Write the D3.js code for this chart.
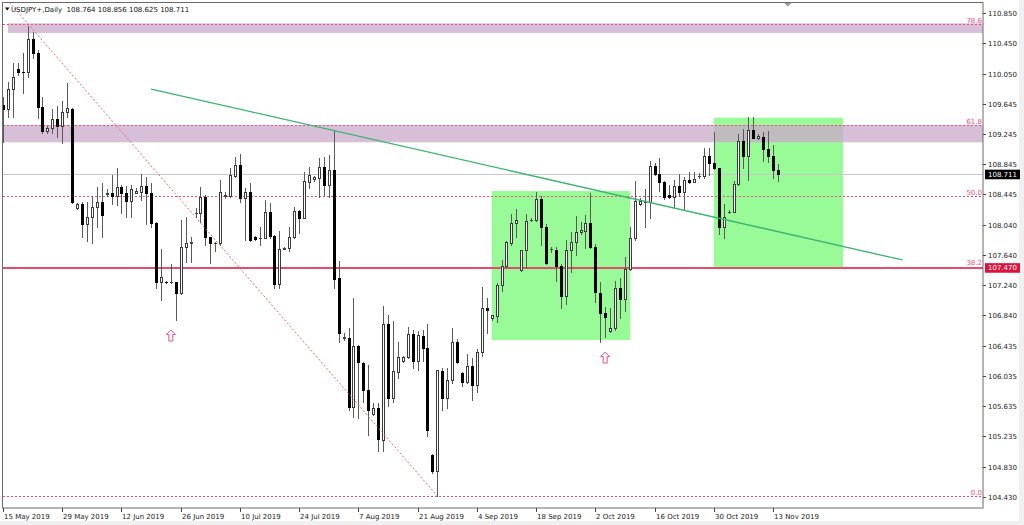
<!DOCTYPE html>
<html><head><meta charset="utf-8">
<script src="https://cdn.jsdelivr.net/npm/d3@7"></script>
<style>
html,body{margin:0;padding:0;background:#f0f0f0;}
svg{display:block;}
text{font-family:"DejaVu Sans",sans-serif;font-size:7px;}
</style></head>
<body>
<svg id="c" width="1024" height="525"></svg>
<script>
const symbol = "USDJPY+,Daily";
const dateTicks = ["15 May 2019","29 May 2019","12 Jun 2019","26 Jun 2019","10 Jul 2019","24 Jul 2019","7 Aug 2019","21 Aug 2019","4 Sep 2019","18 Sep 2019","2 Oct 2019","16 Oct 2019","30 Oct 2019","13 Nov 2019"];
const dateTickBars = [0,12,24,36,48,60,72,84,96,108,120,132,144,156];
const priceTicks = [110.850,110.450,110.050,109.645,109.245,108.845,108.445,108.040,107.640,107.240,106.840,106.435,106.035,105.635,105.235,104.830,104.430];

const open = [109.633,109.576,109.841,110.115,110.077,110.075,110.509,110.319,109.602,109.288,109.324,109.451,109.354,109.540,109.576,108.270,108.319,108.053,108.142,108.275,108.349,108.458,108.461,108.425,108.548,108.469,108.363,108.469,108.482,108.558,108.461,108.071,107.288,107.290,107.285,107.288,107.134,107.744,107.802,108.193,108.195,108.416,107.885,107.795,107.797,108.426,108.429,108.694,108.837,108.395,108.474,107.885,107.869,107.871,108.209,107.898,107.257,107.728,107.731,107.885,108.226,108.137,108.615,108.647,108.668,108.814,108.571,108.770,107.333,106.541,106.544,105.628,106.434,106.204,105.850,105.528,105.607,105.186,106.722,105.748,106.093,106.239,106.292,106.589,106.235,106.571,106.404,104.987,104.775,106.102,105.740,105.983,106.491,106.072,105.952,106.173,105.916,106.350,106.934,106.802,106.836,107.244,107.500,107.797,108.063,107.443,107.708,108.100,108.103,108.385,108.018,107.719,107.708,107.500,107.102,107.708,107.818,107.943,107.967,108.063,107.752,107.134,106.868,106.633,106.669,107.208,107.058,107.456,107.864,108.315,108.341,108.341,108.827,108.713,108.607,108.438,108.416,108.562,108.474,108.637,108.615,108.692,108.694,108.960,108.859,108.793,108.018,108.214,108.217,108.580,109.155,108.960,109.301,109.191,109.212,109.049,108.960,108.764];
const high = [109.739,109.942,110.186,110.186,110.319,110.681,110.606,110.363,109.735,109.354,109.576,109.620,109.690,109.921,109.589,108.336,108.349,108.349,108.425,108.548,108.602,108.514,108.704,108.793,108.571,108.558,108.571,108.527,108.717,108.681,108.602,108.084,107.718,107.301,107.522,107.288,108.106,108.142,107.885,108.262,108.548,108.438,107.885,107.818,108.637,108.482,108.801,108.947,108.979,108.527,108.594,107.898,108.018,108.372,108.328,107.907,107.960,107.752,108.018,108.283,108.239,108.748,108.814,108.694,108.925,108.947,108.969,109.301,107.562,106.603,106.669,107.075,106.447,106.218,106.182,105.674,105.674,106.969,106.846,106.766,106.483,106.305,106.690,106.646,106.633,106.646,106.722,104.997,106.116,106.146,106.146,106.669,106.527,106.085,106.324,106.271,106.394,107.221,107.067,106.846,107.266,107.576,107.828,108.182,108.252,107.708,108.182,108.129,108.474,108.429,108.049,107.752,107.752,107.518,107.841,107.951,108.164,108.076,108.173,108.461,107.784,107.288,106.956,106.934,107.297,107.341,107.619,108.018,108.624,108.395,108.518,108.890,108.859,108.933,108.624,108.571,108.637,108.713,108.681,108.748,108.748,108.726,109.066,109.066,109.278,108.801,108.315,108.239,108.624,109.244,109.314,109.478,109.478,109.244,109.278,109.288,109.102,108.856];
const low = [109.142,109.478,109.478,110.031,109.796,110.008,110.257,109.456,109.257,109.265,109.257,109.204,109.132,109.470,108.336,108.256,107.877,107.832,107.805,108.018,107.885,108.425,108.319,108.306,108.203,108.150,108.150,108.461,108.372,108.053,108.018,107.200,107.045,107.266,107.266,106.779,107.124,107.553,107.553,108.150,108.084,107.775,107.532,107.695,107.775,108.402,108.416,108.681,108.341,107.841,107.828,107.841,107.775,107.864,107.871,107.200,107.208,107.722,107.695,107.864,107.930,108.129,108.535,108.624,108.416,108.438,108.416,107.200,106.491,106.514,105.585,105.496,105.482,105.695,105.253,105.518,105.040,105.040,105.642,105.687,106.013,106.226,106.271,106.146,106.116,106.235,105.243,104.744,104.447,105.585,105.615,105.939,106.204,105.907,105.939,105.717,105.820,106.305,106.603,106.779,106.749,107.164,107.487,107.775,107.885,107.430,107.473,108.093,108.093,107.775,107.518,107.686,107.297,106.942,106.988,107.412,107.642,107.917,107.731,107.739,107.022,106.483,106.558,106.624,106.646,106.802,106.899,107.443,107.841,108.306,108.018,108.137,108.704,108.491,108.385,108.395,108.283,108.429,108.239,108.594,108.607,108.668,108.668,108.704,108.783,107.917,107.871,108.195,108.209,108.571,108.801,108.637,109.191,109.182,108.890,108.872,108.668,108.625];
const close = [109.580,109.841,110.001,110.075,110.072,110.509,110.319,109.602,109.288,109.324,109.451,109.354,109.540,109.589,108.349,108.319,108.053,108.142,108.275,108.349,108.173,108.465,108.425,108.548,108.469,108.363,108.518,108.495,108.558,108.461,108.063,107.288,107.346,107.285,107.290,107.134,107.744,107.805,107.808,108.198,108.416,107.885,107.797,107.800,108.482,108.432,108.704,108.837,108.402,108.474,107.841,107.854,107.874,108.209,107.898,107.257,107.722,107.734,107.885,108.226,108.137,108.624,108.704,108.681,108.814,108.571,108.770,107.319,106.603,106.547,105.628,106.434,106.218,105.850,105.585,105.615,105.200,106.722,105.748,106.102,106.292,106.292,106.589,106.235,106.580,106.404,105.319,104.775,106.112,105.740,105.983,106.483,106.218,105.952,106.173,105.916,106.350,106.934,106.916,106.842,107.244,107.500,107.810,108.063,108.106,107.708,108.093,108.105,108.385,108.018,107.532,107.724,107.500,107.102,107.708,107.818,107.943,107.974,108.063,107.752,107.147,106.868,106.823,106.669,107.208,107.058,107.456,107.864,108.359,108.359,108.359,108.827,108.713,108.607,108.416,108.416,108.562,108.474,108.637,108.607,108.651,108.697,108.960,108.859,108.793,108.018,108.150,108.219,108.580,109.155,108.960,109.301,109.199,109.225,109.049,108.960,108.770,108.711];

// annotations
const fibLabels = ["0.0","38.2","50.0","61.8","78.6"];
const fibPrices = [104.443,107.485,108.424,109.365,110.703];
const fibAnchorBars = [-17.3, 88];
const fibAnchorPrices = [112.40, 104.443];
const zoneStartBars = [1, -2];
const zoneTop = [110.717, 109.367];
const zoneBottom = [110.589, 109.138];
const boxStartBars = [99, 144];
const boxEndBars = [127.1, 170.2];
const boxTop = [108.491, 109.464];
const boxBottom = [106.513, 107.473];
const trendBars = [30, 182.2];
const trendPrices = [109.845, 107.576];
const levelPrice = 107.470;
const arrowBars = [34, 122];
const arrowPrices = [106.646, 106.354];

const svg = d3.select("#c");
const L = 3, R = 983, T = 2.5, B = 508;
const x = d3.scaleLinear().domain([0,156]).range([3,773]);
const y = d3.scaleLinear().domain([104.43,110.85]).range([497,13.3]);

svg.append("rect").attr("x",0).attr("y",0).attr("width",1019).attr("height",521).attr("fill","#fff");
svg.append("defs").append("clipPath").attr("id","clip").append("rect")
  .attr("x",L).attr("y",T).attr("width",R-L).attr("height",B-T);
const g = svg.append("g").attr("clip-path","url(#clip)");

// purple zones
zoneTop.forEach((t,k)=>{
  g.append("rect").attr("x",x(zoneStartBars[k])).attr("y",y(t))
   .attr("width",R - x(zoneStartBars[k])).attr("height",y(zoneBottom[k])-y(t))
   .attr("fill","#d8bfd8");
});
// green boxes
boxTop.forEach((t,k)=>{
  g.append("rect").attr("x",x(boxStartBars[k])).attr("y",y(t))
   .attr("width",x(boxEndBars[k])-x(boxStartBars[k])).attr("height",y(boxBottom[k])-y(t))
   .attr("fill","#98fb98");
});
// overlap of box 2 with zone 2
{
  const ox0 = Math.max(x(boxStartBars[1]), x(zoneStartBars[1]));
  const ox1 = x(boxEndBars[1]);
  const oy0 = Math.max(y(boxTop[1]), y(zoneTop[1]));
  const oy1 = Math.min(y(boxBottom[1]), y(zoneBottom[1]));
  g.append("rect").attr("x",ox0).attr("y",oy0).attr("width",ox1-ox0).attr("height",oy1-oy0).attr("fill","#bfbbbf");
}
// bid line
const last = close.length-1;
g.append("line").attr("x1",L).attr("x2",R).attr("y1",Math.round(y(close[last]))+0.5).attr("y2",Math.round(y(close[last]))+0.5)
 .attr("stroke","#c8c8c8").attr("stroke-width",1);
// fib dotted lines
fibPrices.forEach((p,k)=>{
  if (fibLabels[k]==="38.2") return;
  const yy = Math.round(y(p))+0.5;
  g.append("line").attr("x1",L).attr("x2",R).attr("y1",yy).attr("y2",yy)
   .attr("stroke","#e8507a").attr("stroke-width",1).attr("stroke-dasharray","2,2");
});
// red solid level
g.append("line").attr("x1",L).attr("x2",R).attr("y1",y(levelPrice)).attr("y2",y(levelPrice))
 .attr("stroke","#e24d6e").attr("stroke-width",2);

// candles
const cg = g.append("g");
open.forEach((o,i)=>{
  const cx = Math.round(x(i));
  const yH = Math.round(y(high[i])), yL = Math.round(y(low[i]));
  const yO = Math.round(y(o)), yC = Math.round(y(close[i]));
  const bull = close[i] >= o;
  cg.append("line").attr("x1",cx+0.5).attr("x2",cx+0.5).attr("y1",yH).attr("y2",yL+1)
    .attr("stroke","#5a5a5a").attr("stroke-width",1);
  const top = Math.min(yO,yC), bot = Math.max(yO,yC);
  if (bot - top < 2) {
    cg.append("rect").attr("x",cx-1).attr("y",top).attr("width",3).attr("height",Math.max(1,bot-top+1))
      .attr("fill", bull ? "#444" : "#000");
  } else if (bull) {
    cg.append("rect").attr("x",cx-0.5).attr("y",top+0.5).attr("width",2).attr("height",bot-top)
      .attr("fill","#fff").attr("stroke","#3a3a3a").attr("stroke-width",1);
  } else {
    cg.append("rect").attr("x",cx-1).attr("y",top).attr("width",3).attr("height",bot-top+1).attr("fill","#000");
  }
});

// trend line
g.append("line").attr("x1",x(trendBars[0])).attr("y1",y(trendPrices[0]))
 .attr("x2",x(trendBars[1])).attr("y2",y(trendPrices[1]))
 .attr("stroke","#3cb371").attr("stroke-width",1.3);
// fib diagonal
g.append("line").attr("x1",x(fibAnchorBars[0])).attr("y1",y(fibAnchorPrices[0]))
 .attr("x2",x(fibAnchorBars[1])).attr("y2",y(fibAnchorPrices[1]))
 .attr("stroke","#f0607a").attr("stroke-width",1).attr("stroke-dasharray","2,2");
// arrows
arrowBars.forEach((b,k)=>{
  const cx = x(b), ty = y(arrowPrices[k]);
  const pts = [[cx,ty],[cx+4.5,ty+4.5],[cx+2,ty+4.5],[cx+2,ty+11],[cx-2,ty+11],[cx-2,ty+4.5],[cx-4.5,ty+4.5]];
  g.append("polygon").attr("points",pts.map(p=>p.join(",")).join(" "))
   .attr("fill","#fff").attr("stroke","#f0507a").attr("stroke-width",1);
});
// fib labels
fibPrices.forEach((p,k)=>{
  g.append("text").attr("x",R-1).attr("y",y(p)-1.5).attr("text-anchor","end")
   .attr("fill","#f0507a").text(fibLabels[k]);
});

// frame
svg.append("rect").attr("x",2.5).attr("y",T).attr("width",R-2.5).attr("height",B-T)
 .attr("fill","none").attr("stroke","#6b6b6b").attr("stroke-width",1);

// y axis
priceTicks.forEach(p=>{
  const yy = Math.round(y(p))+0.5;
  svg.append("line").attr("x1",R).attr("x2",R+3).attr("y1",yy).attr("y2",yy).attr("stroke","#444");
  svg.append("text").attr("x",R+5).attr("y",yy+2.5).attr("fill","#222").text(p.toFixed(3));
});
// price boxes
function priceBox(p, bg){
  const yy = y(p);
  svg.append("rect").attr("x",R+2).attr("y",yy-4.8).attr("width",35).attr("height",9.6).attr("fill",bg);
  svg.append("text").attr("x",R+5).attr("y",yy+2.5).attr("fill","#fff").text(p.toFixed(3));
}
priceBox(close[last], "#000");
priceBox(levelPrice, "#dc143c");

// x axis
dateTickBars.forEach((b,k)=>{
  const xx = Math.round(x(b))+0.5;
  svg.append("line").attr("x1",xx).attr("x2",xx).attr("y1",B).attr("y2",B+4).attr("stroke","#444");
  svg.append("text").attr("x",xx+0.5).attr("y",B+11).attr("fill","#222").text(dateTicks[k]);
});

// header
svg.append("polygon").attr("points","5,7.5 9.5,7.5 7.25,10.5").attr("fill","#000");
svg.append("text").attr("x",11).attr("y",11.5).attr("fill","#111").style("white-space","pre")
  .text(symbol + "  " + [open[last],high[last],low[last],close[last]].map(v=>v.toFixed(3)).join(" "));
// shift marker
const sx = x(159);
svg.append("polygon").attr("points",`${sx-3.5},3 ${sx+3.5},3 ${sx},6.5`).attr("fill","#9a9a9a");
</script>
</body></html>
